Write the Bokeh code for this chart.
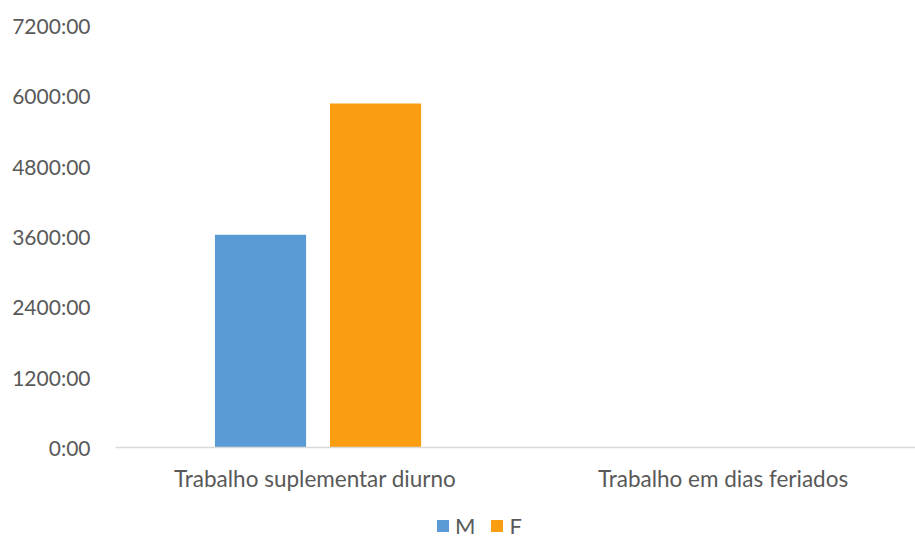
from bokeh.plotting import figure
from bokeh.layouts import column
from bokeh.models import FixedTicker, Legend, LegendItem, ColumnDataSource, Range1d
from bokeh.embed import file_html
from bokeh.resources import INLINE

categories = ["Trabalho  suplementar diurno", "Trabalho em dias feriados"]
series = ["M", "F"]
m_hours = [3630, 0]
f_hours = [5870, 0]
colors = ["#5B9BD5", "#FA9D10"]
y_ticks = [0, 1200, 2400, 3600, 4800, 6000, 7200]
y_tick_labels = ["0:00", "1200:00", "2400:00", "3600:00", "4800:00", "6000:00", "7200:00"]

FONT = "Lato"
LABEL_COLOR = "#595959"
bar_w = 0.225
offset = 0.142

idx = list(range(len(categories)))
p = figure(width=915, height=505, output_backend="svg", toolbar_location=None,
           x_range=Range1d(-0.5, 1.475), y_range=Range1d(0, 7200),
           min_border_left=115, min_border_right=0, min_border_top=25, min_border_bottom=58)
p.outline_line_color = None
p.grid.visible = False

src = ColumnDataSource(dict(x_m=[i - offset for i in idx], x_f=[i + offset for i in idx],
                            m=m_hours, f=f_hours))
r_m = p.vbar(x="x_m", top="m", width=bar_w, source=src, color=colors[0], line_color=None)
r_f = p.vbar(x="x_f", top="f", width=bar_w, source=src, color=colors[1], line_color=None)

p.yaxis.ticker = FixedTicker(ticks=y_ticks)
p.yaxis.major_label_overrides = {t: l for t, l in zip(y_ticks, y_tick_labels)}
p.yaxis.axis_line_color = None
p.yaxis.major_tick_line_color = None
p.yaxis.minor_tick_line_color = None
p.yaxis.major_label_standoff = 19
p.yaxis.major_label_text_font = FONT
p.yaxis.major_label_text_font_size = "21px"
p.yaxis.major_label_text_color = LABEL_COLOR

p.xaxis.ticker = FixedTicker(ticks=idx)
p.xaxis.major_label_overrides = {i: c for i, c in zip(idx, categories)}
p.xaxis.axis_line_color = "#D9D9D9"
p.xaxis.axis_line_width = 1.5
p.xaxis.major_tick_line_color = None
p.xaxis.minor_tick_line_color = None
p.xaxis.major_label_standoff = 11
p.xaxis.major_label_text_font = FONT
p.xaxis.major_label_text_font_size = "22.5px"
p.xaxis.major_label_text_color = LABEL_COLOR

# legend strip below the chart
lg = figure(width=915, height=34, output_backend="svg", toolbar_location=None,
            x_range=Range1d(0, 1), y_range=Range1d(0, 1),
            min_border_left=0, min_border_right=0, min_border_top=0, min_border_bottom=0)
lg.axis.visible = False
lg.grid.visible = False
lg.outline_line_color = None
l_m = lg.vbar(x=[0], top=[0], width=0, color=colors[0], line_color=None)
l_f = lg.vbar(x=[0], top=[0], width=0, color=colors[1], line_color=None)
legend = Legend(items=[LegendItem(label=series[0], renderers=[l_m]),
                       LegendItem(label=series[1], renderers=[l_f])],
                orientation="horizontal", location=(320, 0),
                glyph_width=15, glyph_height=15, label_standoff=5, spacing=14,
                padding=0, margin=0, border_line_color=None, background_fill_alpha=0,
                label_text_font=FONT, label_text_font_size="22px", label_text_color=LABEL_COLOR)
lg.add_layout(legend, "center")

layout = column(p, lg, spacing=0)
open("out.html", "w").write(file_html(layout, INLINE))
